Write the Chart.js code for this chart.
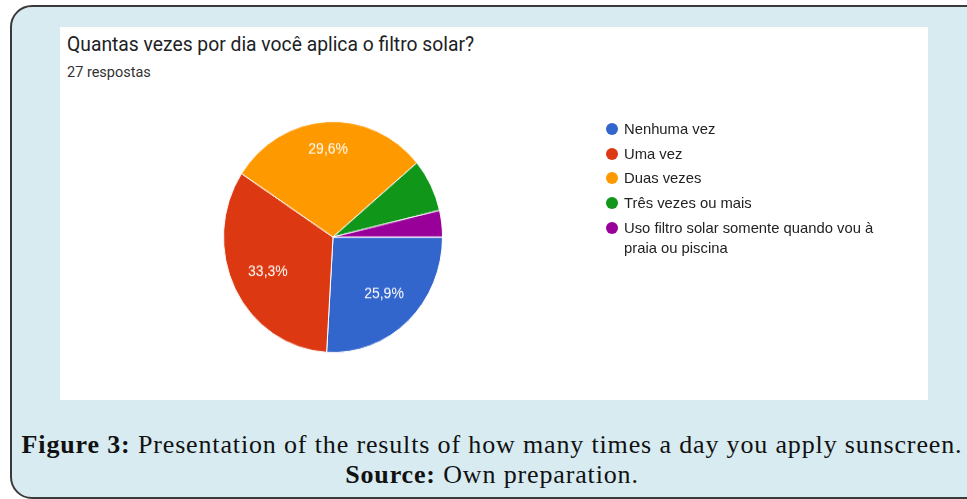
<!DOCTYPE html>
<html>
<head>
<meta charset="utf-8">
<script src="https://cdn.jsdelivr.net/npm/chart.js@4.4.0/dist/chart.umd.min.js"></script>
<style>
  body { margin: 0; width: 967px; height: 499px; overflow: hidden; background: #fff; }
  .frame {
    position: absolute; left: 10px; top: 5px; width: 1000px; height: 490px;
    background: #d7ebf1; border: 2px solid #3a3a3a; border-radius: 22px;
  }
  .panel { position: absolute; left: 60px; top: 27px; width: 868px; height: 373px; background: #fff; }
  .panel canvas { position: absolute; left: 0; top: 0; transform-origin: 0 210px; transform: scaleY(1.055); }
  .title { position: absolute; left: 7px; top: 6px; font: 19.3px Roboto, sans-serif; color: #202124; white-space: nowrap; }
  .sub { position: absolute; left: 7px; top: 37px; font: 14.5px Roboto, sans-serif; color: #333; white-space: nowrap; }
  .legend { position: absolute; left: 546px; top: 92px; font: 14.8px "Liberation Sans", Arial, sans-serif; color: #222; }
  .legend .item { position: relative; padding-left: 18px; width: 262px; line-height: 20px; margin-bottom: 4.7px; }
  .legend .dot { position: absolute; left: 0; top: 4px; width: 12px; height: 12px; border-radius: 50%; }
  .caption {
    position: absolute; left: 0; top: 430px; width: 984px; text-align: center;
    font: 26px "Liberation Serif", serif; letter-spacing: 0.85px; color: #111; line-height: 30px;
  }
</style>
</head>
<body>
<div class="frame"></div>
<div class="panel">
  <div class="title">Quantas vezes por dia você aplica o filtro solar?</div>
  <div class="sub">27 respostas</div>
  <canvas id="pie" width="868" height="373"></canvas>
  <div class="legend" id="legend"></div>
</div>
<div class="caption">
  <b>Figure 3:</b> Presentation of the results of how many times a day you apply sunscreen.<br>
  <b>Source:</b> Own preparation.
</div>
<script>
const answers = ['Nenhuma vez', 'Uma vez', 'Duas vezes', 'Três vezes ou mais',
  'Uso filtro solar somente quando vou à praia ou piscina'];
const counts = [7, 9, 8, 2, 1];
const sliceColors = ['#3366cc', '#dc3912', '#ff9900', '#109618', '#990099'];

const total = counts.reduce((a, b) => a + b, 0);

// legend on the right
const legend = document.getElementById('legend');
answers.forEach((name, i) => {
  const item = document.createElement('div');
  item.className = 'item';
  item.innerHTML = '<span class="dot" style="background:' + sliceColors[i] + '"></span>' + name;
  legend.appendChild(item);
});

// percentage text inside the bigger slices; the far corner of the text box
// is kept at a fixed distance from the centre
const sliceLabels = {
  id: 'sliceLabels',
  afterDatasetsDraw(chart) {
    const ctx = chart.ctx;
    const meta = chart.getDatasetMeta(0);
    ctx.save();
    ctx.fillStyle = '#fff';
    ctx.font = '14px "Liberation Sans", Arial, sans-serif';
    ctx.textAlign = 'center';
    ctx.textBaseline = 'middle';
    meta.data.forEach((arc, i) => {
      const pct = counts[i] / total * 100;
      if (pct < 10) return;
      const text = pct.toFixed(1).replace('.', ',') + '%';
      const mid = (arc.startAngle + arc.endAngle) / 2;
      const c = Math.cos(mid), s = Math.sin(mid);
      const a = Math.sign(c) * ctx.measureText(text).width / 2;
      const b = Math.sign(s) * 8;
      const R = arc.outerRadius * 0.86;
      const k = c * a + s * b;
      const t = -k + Math.sqrt(k * k - (a * a + b * b - R * R));
      ctx.fillText(text, arc.x + c * t, arc.y + s * t);
    });
    ctx.restore();
  }
};

new Chart(document.getElementById('pie'), {
  type: 'pie',
  data: {
    labels: answers,
    datasets: [{
      data: counts,
      backgroundColor: sliceColors,
      borderColor: '#fff',
      borderWidth: 1
    }]
  },
  options: {
    responsive: false,
    animation: false,
    events: [],
    rotation: 90,
    layout: { padding: { left: 163, right: 485, top: 100, bottom: 53 } },
    plugins: {
      legend: { display: false },
      tooltip: { enabled: false }
    }
  },
  plugins: [sliceLabels]
});
</script>
</body>
</html>
